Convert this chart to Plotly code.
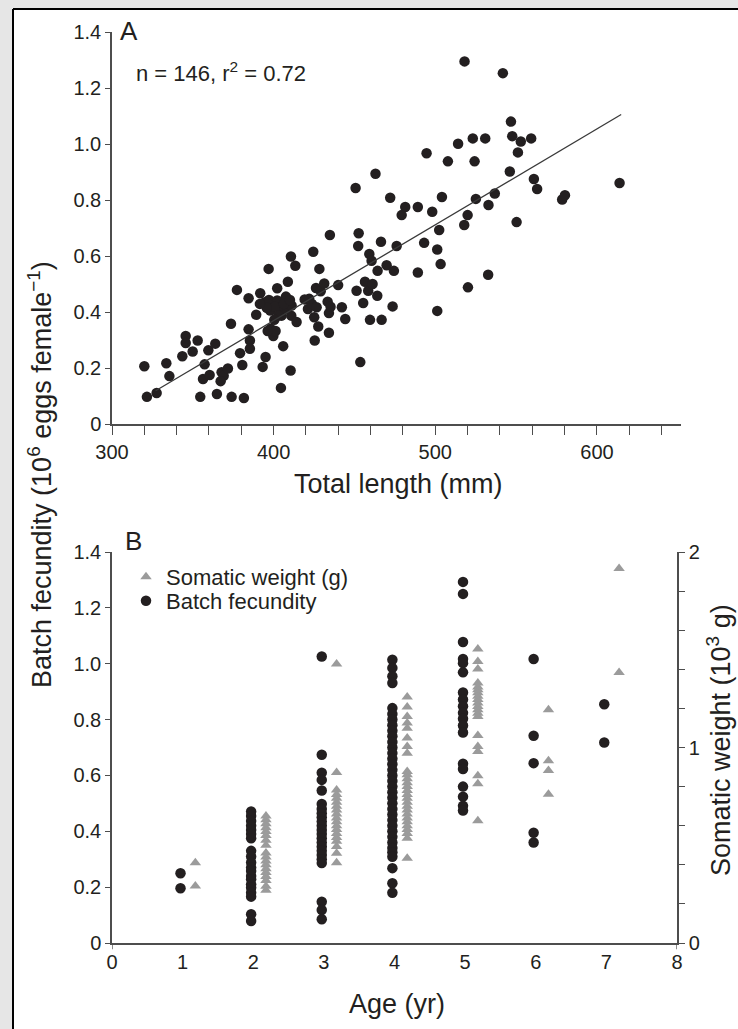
import plotly.graph_objects as go

# ---------------- Panel A data: total length (mm) vs batch fecundity (10^6 eggs) -------------
total_length_mm = [
    320.0, 321.6, 327.6, 333.6, 335.5, 343.5, 345.6, 345.6, 349.9, 353.0,
    354.6, 357.3, 356.3, 359.6, 360.4, 363.9, 364.9, 367.8, 369.1, 367.2,
    371.7, 373.6, 374.0, 379.2, 380.6, 381.6, 377.3, 384.5, 384.5, 385.3,
    385.3, 389.2, 391.7, 393.2, 395.0, 394.6, 396.9, 397.1, 397.9, 398.1,
    399.8, 401.2, 402.2, 402.2, 403.9, 404.5, 405.9, 404.9, 407.6, 408.8,
    408.4, 410.7, 410.5, 411.1, 410.9, 413.4, 414.2, 419.2, 421.2, 424.5,
    423.7, 425.1, 425.4, 427.6, 426.2, 428.3, 429.1, 431.3, 433.4, 434.2,
    434.8, 434.2, 435.2, 439.9, 442.2, 444.3, 451.3, 452.6, 452.3, 453.6,
    455.4, 456.5, 458.5, 459.6, 459.2, 460.6, 461.2, 464.1, 464.3, 466.4,
    466.8, 469.9, 473.6, 474.4, 476.1,
    481.4, 479.2, 489.2, 498.1, 489.2, 493.1, 501.2, 502.4, 503.3, 501.2,
    517.9, 520.0, 520.2, 532.9, 532.7, 550.3,
    518.1, 541.8, 546.8, 547.6, 552.9, 559.3, 551.1, 546.1, 561.0, 563.0,
    578.5, 580.2, 614.0, 523.2, 530.9, 514.1, 494.6, 507.8, 524.3, 463.0,
    450.7, 472.1, 504.1, 525.1, 536.8,
    400.8, 402.9, 406.4, 400.4, 395.7, 410.1, 396.3, 422.0, 391.5, 426.6,
]
batch_fecundity_a = [
    0.206, 0.097, 0.111, 0.217, 0.171, 0.242, 0.314, 0.289, 0.259, 0.298,
    0.097, 0.213, 0.161, 0.263, 0.175, 0.287, 0.107, 0.185, 0.172, 0.153,
    0.198, 0.358, 0.097, 0.253, 0.211, 0.093, 0.479, 0.449, 0.338, 0.298,
    0.269, 0.390, 0.467, 0.204, 0.239, 0.435, 0.554, 0.443, 0.405, 0.340,
    0.314, 0.332, 0.485, 0.441, 0.411, 0.129, 0.278, 0.387, 0.455, 0.508,
    0.411, 0.598, 0.191, 0.423, 0.387, 0.565, 0.364, 0.445, 0.411, 0.615,
    0.429, 0.381, 0.298, 0.348, 0.486, 0.554, 0.474, 0.502, 0.437, 0.396,
    0.675, 0.326, 0.419, 0.496, 0.417, 0.375, 0.476, 0.681, 0.636, 0.221,
    0.432, 0.508, 0.476, 0.372, 0.607, 0.583, 0.500, 0.458, 0.547, 0.651,
    0.372, 0.567, 0.420, 0.547, 0.636,
    0.775, 0.746, 0.775, 0.758, 0.541, 0.647, 0.623, 0.693, 0.571, 0.404,
    0.711, 0.746, 0.488, 0.782, 0.533, 0.721,
    1.295, 1.253, 1.080, 1.028, 1.009, 1.020, 0.970, 0.902, 0.875, 0.839,
    0.802, 0.817, 0.861, 1.020, 1.020, 1.001, 0.967, 0.938, 0.938, 0.894,
    0.843, 0.808, 0.811, 0.804, 0.823,
    0.419, 0.387, 0.429, 0.372, 0.415, 0.443, 0.332, 0.447, 0.429, 0.417,
]

# regression line
REG_X = [327, 615]
REG_SLOPE = 0.003425
REG_INTERCEPT = -1.001

# ---------------- Panel B data: by age ----------------
ages = [1, 2, 3, 4, 5, 6, 7]
fecundity_by_age = [
    [0.250, 0.196],
    [0.471, 0.455, 0.437, 0.420, 0.405, 0.390, 0.375, 0.330, 0.310, 0.288,
     0.270, 0.258, 0.240, 0.228, 0.210, 0.198, 0.180, 0.166, 0.103, 0.079],
    [1.026, 0.674, 0.610, 0.584, 0.546, 0.498, 0.480, 0.465, 0.450, 0.435,
     0.420, 0.405, 0.390, 0.375, 0.360, 0.345, 0.330, 0.315, 0.300, 0.286,
     0.148, 0.118, 0.085],
    [1.014, 0.985, 0.955, 0.931, 0.841, 0.820, 0.800, 0.780, 0.760, 0.740,
     0.720, 0.700, 0.680, 0.660, 0.640, 0.620, 0.600, 0.580, 0.560, 0.540,
     0.520, 0.500, 0.480, 0.460, 0.440, 0.420, 0.400, 0.380, 0.360, 0.340,
     0.325, 0.309, 0.268, 0.214, 0.180],
    [1.293, 1.250, 1.078, 1.017, 1.002, 0.969, 0.897, 0.872, 0.848, 0.824,
     0.803, 0.779, 0.754, 0.642, 0.623, 0.560, 0.524, 0.491, 0.474],
    [1.017, 0.742, 0.644, 0.395, 0.360],
    [0.855, 0.718],
]
somatic_by_age = [  # 10^3 g
    [0.411, 0.292],
    [0.650, 0.630, 0.610, 0.590, 0.570, 0.550, 0.525, 0.500, 0.460, 0.440,
     0.420, 0.400, 0.380, 0.360, 0.340, 0.320, 0.290, 0.270],
    [1.427, 0.872, 0.783, 0.760, 0.740, 0.720, 0.700, 0.680, 0.660, 0.640,
     0.620, 0.600, 0.580, 0.560, 0.540, 0.520, 0.493, 0.459, 0.411],
    [1.258, 1.207, 1.159, 1.125, 1.099, 1.048, 1.005, 0.971, 0.877, 0.860,
     0.840, 0.820, 0.800, 0.780, 0.760, 0.740, 0.720, 0.700, 0.680, 0.660,
     0.640, 0.620, 0.600, 0.580, 0.560, 0.536, 0.434],
    [1.504, 1.440, 1.401, 1.330, 1.310, 1.296, 1.280, 1.262, 1.245, 1.228,
     1.210, 1.193, 1.175, 1.159, 1.062, 1.005, 0.980, 0.855, 0.814, 0.625],
    [1.193, 0.932, 0.882, 0.761],
    [1.915, 1.384],
]

y_ticks = [0, 0.2, 0.4, 0.6, 0.8, 1.0, 1.2, 1.4]
y_ticktext = ["0", "0.2", "0.4", "0.6", "0.8", "1.0", "1.2", "1.4"]

# ---------------- styles ----------------
FONT = "Liberation Sans, Arial, Helvetica, sans-serif"
INK = "#231f20"
AXIS = "#4d4d4d"
GRAY = "#9b9b9b"
CIRCLE_DX = -0.03
TRI_DX = 0.18

fec_x, fec_y, som_x, som_y = [], [], [], []
for a, fl, sl in zip(ages, fecundity_by_age, somatic_by_age):
    fec_x += [a + CIRCLE_DX] * len(fl)
    fec_y += fl
    som_x += [a + TRI_DX] * len(sl)
    som_y += sl

fig = go.Figure()

fig.add_trace(go.Scatter(
    x=total_length_mm, y=batch_fecundity_a, mode="markers",
    marker=dict(symbol="circle", size=10.5, color=INK),
    xaxis="x", yaxis="y", showlegend=False, hoverinfo="x+y"))
fig.add_trace(go.Scatter(
    x=REG_X, y=[REG_INTERCEPT + REG_SLOPE * v for v in REG_X], mode="lines",
    line=dict(color="#3a3a3a", width=1.3),
    xaxis="x", yaxis="y", showlegend=False, hoverinfo="skip"))

fig.add_trace(go.Scatter(
    x=som_x, y=som_y, mode="markers", name="Somatic weight (g)",
    marker=dict(symbol="triangle-up", size=10, color=GRAY),
    xaxis="x2", yaxis="y3", legend="legend"))
fig.add_trace(go.Scatter(
    x=fec_x, y=fec_y, mode="markers", name="Batch fecundity",
    marker=dict(symbol="circle", size=10.5, color=INK),
    xaxis="x2", yaxis="y2", legend="legend2"))

axis_common = dict(showline=True, linecolor=AXIS, linewidth=1.5, showgrid=False,
                   zeroline=False, tickcolor=AXIS, tickwidth=1.3,
                   tickfont=dict(family=FONT, size=20, color=INK))

L, R, T, B = 112, 57, 32, 86
W, H = 738, 1029
PW, PH = W - L - R, H - T - B


def px(xp):
    return (xp - L) / PW


def py(yp):
    return (H - B - yp) / PH


legend_common = dict(xanchor="left", yanchor="middle",
                     font=dict(family=FONT, size=22, color=INK),
                     bgcolor="rgba(0,0,0,0)", borderwidth=0)

fig.update_layout(
    width=W, height=H,
    margin=dict(l=L, r=R, t=T, b=B),
    paper_bgcolor="white", plot_bgcolor="white",
    font=dict(family=FONT, color=INK),
    xaxis=dict(axis_common, domain=[0, 1], range=[300, 652], anchor="y",
               tick0=300, dtick=100, ticks="outside", ticklen=9,
               minor=dict(dtick=20, tick0=300, ticks="outside", ticklen=9,
                          tickcolor=AXIS, tickwidth=1.3)),
    yaxis=dict(axis_common, domain=[py(424), 1], range=[0, 1.4], anchor="x",
               tickvals=y_ticks, ticktext=y_ticktext, ticks="outside", ticklen=5),
    xaxis2=dict(axis_common, domain=[0, px(677)], range=[0, 8], anchor="y2",
                dtick=1, ticks=""),
    yaxis2=dict(axis_common, domain=[0, py(552)], range=[0, 1.4], anchor="x2",
                tickvals=y_ticks, ticktext=y_ticktext, ticks="outside", ticklen=5),
    yaxis3=dict(axis_common, overlaying="y2", side="right", anchor="x2",
                range=[0, 2], tickvals=[0, 1, 2], ticks="outside", ticklen=6,
                minor=dict(dtick=0.2, ticks="outside", ticklen=6,
                           tickcolor=AXIS, tickwidth=1.3)),
    legend=dict(legend_common, x=px(126), y=py(577)),
    legend2=dict(legend_common, x=px(126), y=py(601)),
    showlegend=True,
)

ann = []


def text(x, y, s, size, xanchor="left", yanchor="middle", angle=0):
    ann.append(dict(x=x, y=y, xref="paper", yref="paper", text=s, showarrow=False,
                    xanchor=xanchor, yanchor=yanchor, textangle=angle,
                    font=dict(family=FONT, size=size, color=INK)))


text(px(118), py(31), "A", 26)
text(px(134), py(72), "n = 146, r<sup>2</sup> = 0.72", 22)
text(px(123), py(541), "B", 26)
text(px(398), py(484), "Total length (mm)", 27, xanchor="center")
text(px(397), py(1004), "Age (yr)", 27, xanchor="center")
text(px(40), py(475), "Batch fecundity (10<sup>6</sup> eggs female<sup>\u22121</sup>)", 27,
     xanchor="center", angle=-90)
text(px(719), py(740), "Somatic weight (10<sup>3</sup> g)", 27, xanchor="center", angle=-90)
fig.update_layout(annotations=ann)

shapes = [
    # page background strips outside the frame
    dict(type="rect", xref="paper", yref="paper", x0=px(0), x1=px(13), y0=py(H), y1=py(0),
         fillcolor="#e6e6e6", line=dict(width=0), layer="below"),
    dict(type="rect", xref="paper", yref="paper", x0=px(0), x1=px(W), y0=py(9), y1=py(0),
         fillcolor="#e6e6e6", line=dict(width=0), layer="below"),
    # frame
    dict(type="line", xref="paper", yref="paper", x0=px(13), x1=px(13), y0=py(H), y1=py(9),
         line=dict(color="black", width=2)),
    dict(type="line", xref="paper", yref="paper", x0=px(13), x1=px(W), y0=py(9), y1=py(9),
         line=dict(color="black", width=2)),
    # end ticks of the age axis
    dict(type="line", xref="x2", yref="y2 domain", x0=0, x1=0, y0=-0.016, y1=0,
         line=dict(color=AXIS, width=1.3)),
    dict(type="line", xref="x2", yref="y2 domain", x0=8, x1=8, y0=-0.016, y1=0,
         line=dict(color=AXIS, width=1.3)),
]
fig.update_layout(shapes=shapes)

fig.write_html(
    "out.html",
    config={"displayModeBar": False},
    post_script="document.documentElement.style.margin='0';"
                "document.body.style.margin='0';document.body.style.padding='0';",
)
